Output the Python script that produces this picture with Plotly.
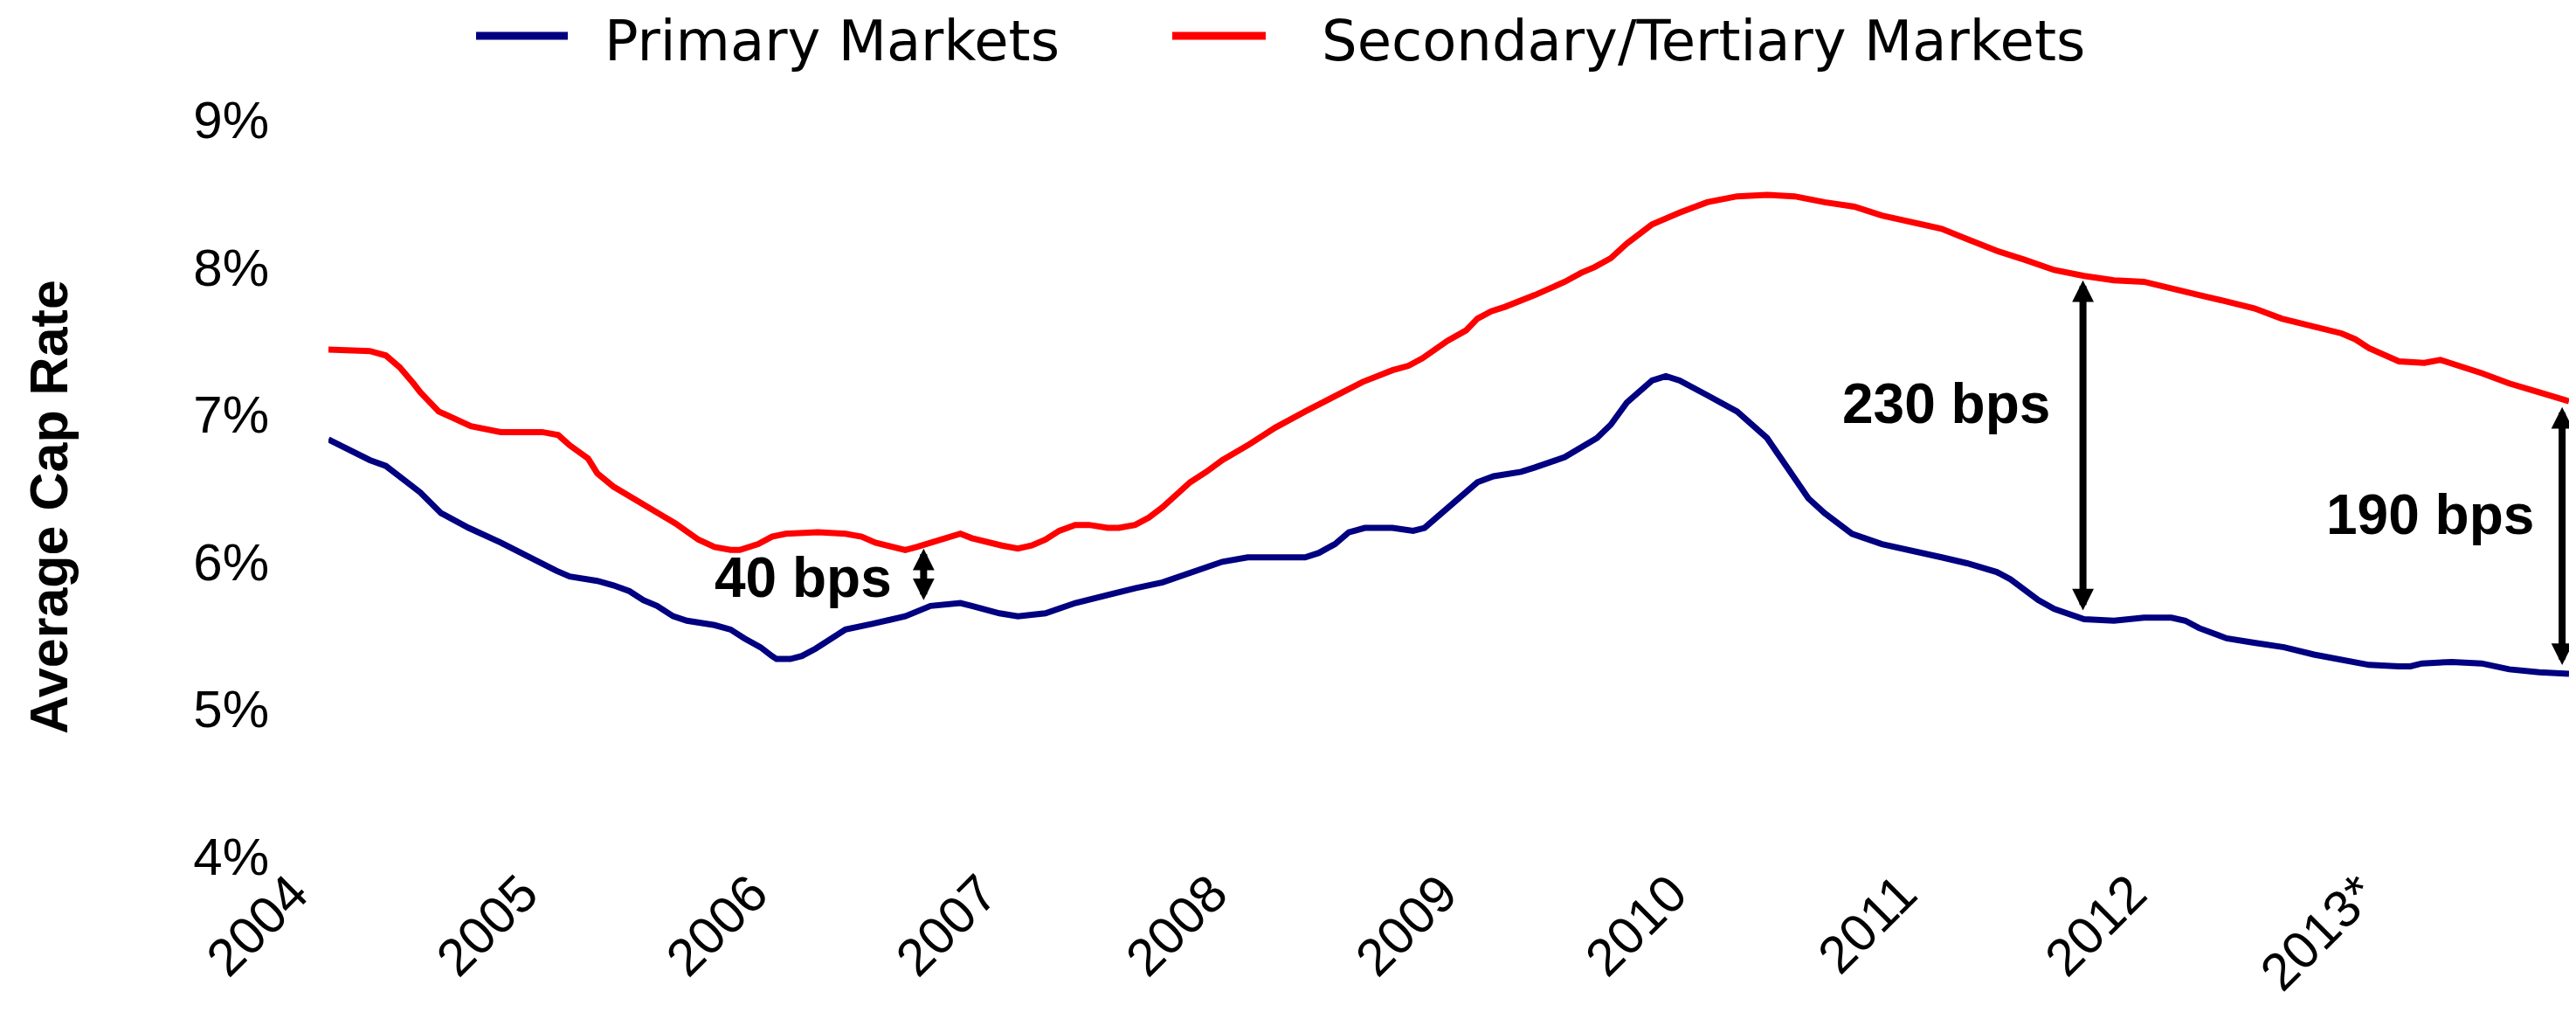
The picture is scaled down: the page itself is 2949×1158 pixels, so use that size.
import plotly.graph_objects as go

# ---------------- data ----------------
years = [2004, 2005, 2006, 2007, 2008, 2009, 2010, 2011, 2012, 2013]
year_labels = ["2004", "2005", "2006", "2007", "2008", "2009", "2010", "2011", "2012", "2013*"]

primary_t = [2004.00, 2004.12, 2004.18, 2004.25, 2004.31, 2004.40, 2004.49, 2004.61, 2004.75, 2004.86,
             2004.99, 2005.05, 2005.17, 2005.24, 2005.31, 2005.37, 2005.43, 2005.50, 2005.56, 2005.68,
             2005.75, 2005.81, 2005.88, 2005.93, 2005.95, 2006.01, 2006.06, 2006.12, 2006.19, 2006.25,
             2006.37, 2006.51, 2006.62, 2006.75, 2006.80, 2006.92, 2007.00, 2007.12, 2007.25, 2007.37,
             2007.51, 2007.63, 2007.76, 2007.89, 2008.00, 2008.13, 2008.18, 2008.25, 2008.31, 2008.38,
             2008.44, 2008.51, 2008.63, 2008.72, 2008.77, 2008.83, 2008.93, 2009.00, 2009.07, 2009.19,
             2009.25, 2009.38, 2009.52, 2009.58, 2009.65, 2009.76, 2009.82, 2009.88, 2010.00, 2010.13,
             2010.26, 2010.37, 2010.44, 2010.51, 2010.63, 2010.76, 2010.89, 2011.02, 2011.13, 2011.26,
             2011.32, 2011.44, 2011.51, 2011.64, 2011.77, 2011.90, 2012.02, 2012.08, 2012.14, 2012.26,
             2012.38, 2012.51, 2012.64, 2012.76, 2012.88, 2013.01, 2013.06, 2013.11, 2013.19, 2013.24,
             2013.37, 2013.49, 2013.62, 2013.75]
primary_rate = [6.83, 6.74, 6.69, 6.65, 6.58, 6.47, 6.33, 6.23, 6.13, 6.04,
                5.94, 5.90, 5.87, 5.84, 5.80, 5.74, 5.70, 5.63, 5.60, 5.57,
                5.54, 5.48, 5.42, 5.36, 5.34, 5.34, 5.36, 5.41, 5.48, 5.54,
                5.58, 5.63, 5.70, 5.72, 5.70, 5.65, 5.63, 5.65, 5.72, 5.77,
                5.82, 5.86, 5.93, 6.00, 6.03, 6.03, 6.02, 6.03, 6.06, 6.12,
                6.20, 6.23, 6.23, 6.21, 6.23, 6.31, 6.45, 6.54, 6.58, 6.61,
                6.64, 6.71, 6.84, 6.93, 7.08, 7.23, 7.26, 7.23, 7.13, 7.02,
                6.84, 6.60, 6.43, 6.33, 6.19, 6.12, 6.08, 6.03, 5.99, 5.93,
                5.88, 5.74, 5.68, 5.61, 5.60, 5.62, 5.62, 5.60, 5.55, 5.48,
                5.45, 5.42, 5.37, 5.34, 5.30, 5.29, 5.29, 5.31, 5.32, 5.32,
                5.31, 5.27, 5.25, 5.24]

secondary_t = [2004.00, 2004.12, 2004.18, 2004.25, 2004.31, 2004.37, 2004.40, 2004.48, 2004.56, 2004.62,
               2004.75, 2004.93, 2005.00, 2005.05, 2005.13, 2005.17, 2005.24, 2005.38, 2005.51, 2005.61,
               2005.68, 2005.75, 2005.79, 2005.87, 2005.93, 2005.99, 2006.13, 2006.25, 2006.32, 2006.38,
               2006.45, 2006.51, 2006.56, 2006.63, 2006.69, 2006.75, 2006.80, 2006.87, 2006.93, 2007.00,
               2007.06, 2007.12, 2007.18, 2007.25, 2007.31, 2007.39, 2007.44, 2007.51, 2007.57, 2007.63,
               2007.69, 2007.75, 2007.82, 2007.89, 2008.00, 2008.12, 2008.25, 2008.38, 2008.50, 2008.63,
               2008.70, 2008.76, 2008.87, 2008.95, 2009.00, 2009.06, 2009.12, 2009.25, 2009.38, 2009.45,
               2009.51, 2009.58, 2009.65, 2009.76, 2009.83, 2009.88, 2010.00, 2010.13, 2010.26, 2010.38,
               2010.51, 2010.64, 2010.76, 2010.89, 2011.02, 2011.13, 2011.26, 2011.38, 2011.51, 2011.64,
               2011.77, 2011.90, 2012.02, 2012.14, 2012.25, 2012.38, 2012.50, 2012.64, 2012.76, 2012.82,
               2012.88, 2013.01, 2013.07, 2013.12, 2013.19, 2013.24, 2013.29, 2013.37, 2013.49, 2013.62,
               2013.75]
secondary_rate = [7.44, 7.44, 7.43, 7.40, 7.32, 7.21, 7.15, 7.02, 6.96, 6.92,
                  6.88, 6.88, 6.86, 6.79, 6.70, 6.60, 6.51, 6.38, 6.26, 6.15,
                  6.10, 6.08, 6.08, 6.12, 6.17, 6.19, 6.20, 6.19, 6.17, 6.13,
                  6.10, 6.08, 6.10, 6.13, 6.16, 6.19, 6.16, 6.13, 6.11, 6.09,
                  6.11, 6.15, 6.21, 6.25, 6.25, 6.23, 6.23, 6.25, 6.30, 6.37,
                  6.45, 6.54, 6.61, 6.69, 6.79, 6.91, 7.02, 7.12, 7.22, 7.30,
                  7.33, 7.38, 7.50, 7.57, 7.65, 7.70, 7.73, 7.81, 7.90, 7.96,
                  8.00, 8.06, 8.16, 8.29, 8.34, 8.37, 8.44, 8.48, 8.49, 8.48,
                  8.44, 8.41, 8.35, 8.31, 8.26, 8.19, 8.11, 8.05, 7.98, 7.94,
                  7.91, 7.90, 7.86, 7.81, 7.77, 7.72, 7.65, 7.60, 7.55, 7.51,
                  7.45, 7.36, 7.35, 7.35, 7.37, 7.35, 7.32, 7.28, 7.21, 7.15,
                  7.09]

series_names = ["Primary Markets", "Secondary/Tertiary Markets"]

# spread annotations
spread_labels = ["40 bps", "230 bps", "190 bps"]
spread_x = [2006.59, 2011.635, 2013.72]
spread_top = [6.09, 7.91, 7.05]
spread_bottom = [5.73, 5.66, 5.29]
label_x = [2006.065, 2011.50, 2013.605]
label_y = [5.89, 7.07, 6.32]
label_anchor = ["center", "right", "right"]

# ---------------- figure ----------------
# page body has an 8px margin; the figure is sized/placed to compensate
OFF = 8
W, H = 2949 - 2 * OFF, 1158 - 2 * OFF
ML = 376 - OFF
MT = 137 - OFF
MR = 0
PB = 980 - OFF          # plot bottom in figure pixels
MB = H - PB
PW, PH = W - ML - MR, PB - MT

BLUE = "#000080"
RED = "#FF0000"
FONT = "Arial, Liberation Sans, Helvetica, sans-serif"
LEGEND_FONT = "DejaVu Sans, Arial, sans-serif"


def sx(px):  # screen px -> paper x
    return (px - OFF - ML) / PW


def sy(py):  # screen px -> paper y
    return (PB - (py - OFF)) / PH


fig = go.Figure()
fig.add_trace(go.Scatter(x=primary_t, y=primary_rate, mode="lines", name=series_names[0],
                         line=dict(color=BLUE, width=7), cliponaxis=False))
fig.add_trace(go.Scatter(x=secondary_t, y=secondary_rate, mode="lines", name=series_names[1],
                         line=dict(color=RED, width=7), cliponaxis=False))

annotations = []
shapes = []

for xa, top, bot in zip(spread_x, spread_top, spread_bottom):
    annotations.append(dict(x=xa, y=top, ax=xa, ay=bot, xref="x", yref="y", axref="x", ayref="y",
                            text="", showarrow=True, arrowhead=2, arrowsize=0.62, arrowwidth=8,
                            startarrowhead=2, startarrowsize=0.62, arrowside="end+start",
                            arrowcolor="black", standoff=0, startstandoff=0))
for txt, lx, ly, anc in zip(spread_labels, label_x, label_y, label_anchor):
    annotations.append(dict(x=lx, y=ly, xref="x", yref="y", text="<b>" + txt + "</b>", showarrow=False,
                            xanchor=anc, yanchor="middle", font=dict(family=FONT, size=64, color="black")))

annotations.append(dict(x=sx(56), y=sy(580), xref="paper", yref="paper",
                        text="<b>Average Cap Rate</b>", textangle=-90, showarrow=False,
                        xanchor="center", yanchor="middle",
                        font=dict(family=FONT, size=61, color="black")))

# legend: swatch + label
legend_swatch_x = [(545, 650), (1342, 1449)]
legend_text_center = [952, 1950]
legend_colors = [BLUE, RED]
for name, (x0, x1), cx, col in zip(series_names, legend_swatch_x, legend_text_center, legend_colors):
    shapes.append(dict(type="line", xref="paper", yref="paper",
                       x0=sx(x0), x1=sx(x1), y0=sy(41), y1=sy(41),
                       line=dict(color=col, width=9)))
    annotations.append(dict(x=sx(cx), y=sy(OFF), xref="paper", yref="paper",
                            text=name, showarrow=False, xanchor="center", yanchor="top",
                            font=dict(family=LEGEND_FONT, size=64, color="black")))

fig.update_layout(
    width=W, height=H,
    margin=dict(l=ML, r=MR, t=MT, b=MB, pad=0, autoexpand=False),
    paper_bgcolor="white", plot_bgcolor="white",
    showlegend=False,
    annotations=annotations,
    shapes=shapes,
    xaxis=dict(range=[2004, 2013.75], tickvals=years, ticktext=year_labels, tickangle=-45,
               showgrid=False, zeroline=False, showline=False, ticks="",
               ticklabelshift=-41, ticklabelstandoff=-6,
               tickfont=dict(family=FONT, size=60, color="black"), automargin=False),
    yaxis=dict(range=[4, 9], tick0=4, dtick=1, ticksuffix="%", showgrid=False, zeroline=False,
               showline=False, ticks="outside", ticklen=55, tickcolor="rgba(0,0,0,0)",
               tickfont=dict(family=FONT, size=60, color="black"), automargin=False),
)

fig.write_html("out.html")
